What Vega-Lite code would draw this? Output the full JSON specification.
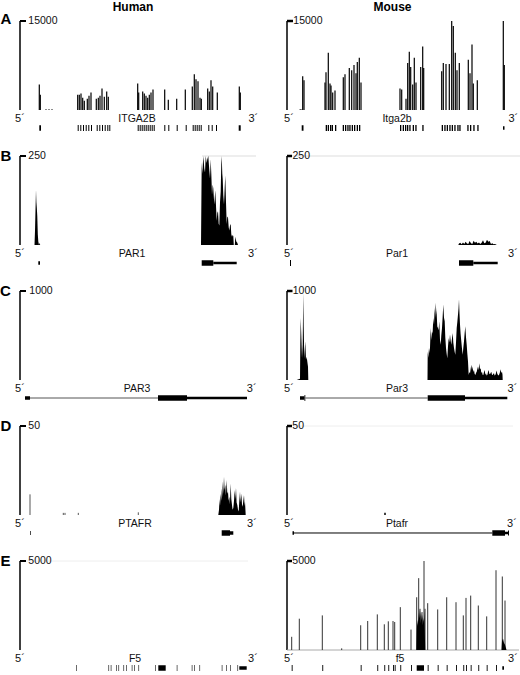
{
"$schema": "https://vega.github.io/schema/vega-lite/v6.json",
"padding": 0,
"spacing": 0,
"config": {"view": {"stroke": null}, "concat": {"spacing": 0}, "axis": {"disable": true}, "legend": {"disable": true},
  "mark": {"color": "#000000"},
  "text": {"font": "Liberation Sans", "fontSize": 10.5, "color": "#111111", "fill": "#111111"}, "rule": {"color": "#000000"}, "area": {"color": "#000000"}},
"datasets": {
"one": [{}],
"ah_cov": [{"x":19.3,"y":4310},{"x":20.3,"y":2590},{"x":26,"y":120},{"x":29,"y":120},{"x":32,"y":120},
{"x":57.7,"y":2590},{"x":59.3,"y":2590},{"x":61,"y":2760},{"x":62.7,"y":2070},{"x":64.3,"y":1550},{"x":67.3,"y":1900},{"x":69,"y":2410},{"x":71,"y":2930},{"x":76.3,"y":1900},{"x":78.3,"y":2070},{"x":80,"y":2410},{"x":82,"y":3620},{"x":84.3,"y":2240},{"x":86.7,"y":3100},{"x":88.3,"y":2240},
{"x":117.7,"y":4480},{"x":118.7,"y":2930},{"x":122.7,"y":3100},{"x":124.3,"y":2760},{"x":126,"y":2410},{"x":127.7,"y":2070},{"x":129.3,"y":2590},{"x":131,"y":2930},{"x":133,"y":3450},
{"x":144.7,"y":3450},{"x":148.3,"y":1720},{"x":156.7,"y":1900},{"x":165.3,"y":3450},{"x":172.3,"y":3970},{"x":174.3,"y":6030},{"x":176,"y":5170},{"x":178,"y":4830},{"x":180,"y":2070},{"x":181.3,"y":1900},{"x":187.7,"y":3620},{"x":189.3,"y":3100},{"x":191,"y":5000},{"x":192.7,"y":3970},{"x":197.3,"y":2930},{"x":219.3,"y":3970},{"x":220.3,"y":2930}],
"am_cov": [{"x":13,"y":100},{"x":14,"y":120},{"x":15.7,"y":5690},{"x":17,"y":5000},{"x":38,"y":4650},{"x":39,"y":6380},{"x":41.3,"y":9650},{"x":43,"y":4480},{"x":44,"y":4140},{"x":45.7,"y":2930},{"x":48,"y":3280},{"x":56.3,"y":5520},{"x":58,"y":6030},{"x":62.3,"y":7070},{"x":64.7,"y":6720},{"x":67,"y":7590},{"x":69,"y":6210},{"x":70.3,"y":8100},{"x":72.3,"y":8790},{"x":74,"y":4650},{"x":113,"y":3620},{"x":114.7,"y":3450},{"x":119,"y":1900},{"x":120.7,"y":7930},{"x":122.3,"y":9830},{"x":123.7,"y":7240},{"x":125.7,"y":4310},{"x":127.3,"y":8790},{"x":129,"y":4650},{"x":133.7,"y":7240},{"x":135.7,"y":10690},{"x":136.7,"y":7070},{"x":154.7,"y":6550},{"x":156.3,"y":7930},{"x":159,"y":7760},{"x":162.3,"y":7760},{"x":164.7,"y":15000},{"x":166.3,"y":14140},{"x":168.3,"y":9650},{"x":170,"y":6720},{"x":172.3,"y":7930},{"x":181.3,"y":8450},{"x":183,"y":6210},{"x":185,"y":11030},{"x":186.3,"y":4480},{"x":190.3,"y":5000},{"x":216.3,"y":15000},{"x":217.3,"y":7590}],
"bh_area": [{"x":14.5,"y":0},{"x":15,"y":40},{"x":15.5,"y":100},{"x":16,"y":155},{"x":16.4,"y":120},{"x":16.8,"y":105},{"x":17.3,"y":80},{"x":17.8,"y":30},{"x":18.3,"y":10},{"x":19,"y":0},{"x":19.6,"y":6},{"x":20.2,"y":0},
{"x":181,"y":0},{"x":181.7,"y":232},{"x":182.3,"y":200},{"x":183.3,"y":250},{"x":184.3,"y":215},{"x":185,"y":204},{"x":185.7,"y":250},{"x":186.7,"y":230},{"x":187.3,"y":241},{"x":188.3,"y":250},{"x":189.3,"y":210},{"x":190,"y":186},{"x":190.7,"y":241},{"x":191.3,"y":200},{"x":192,"y":141},{"x":192.7,"y":170},{"x":193.3,"y":159},{"x":194.3,"y":114},{"x":195.3,"y":154},{"x":196,"y":110},{"x":196.7,"y":68},{"x":197.3,"y":90},{"x":198,"y":95},{"x":198.7,"y":60},{"x":199.3,"y":55},{"x":200,"y":120},{"x":200.7,"y":150},{"x":201.3,"y":230},{"x":201.7,"y":250},{"x":202.3,"y":200},{"x":202.7,"y":186},{"x":203.3,"y":140},{"x":204,"y":114},{"x":204.7,"y":160},{"x":205.3,"y":195},{"x":206,"y":120},{"x":206.7,"y":59},{"x":207.3,"y":80},{"x":208,"y":77},{"x":208.7,"y":50},{"x":209.3,"y":41},{"x":210,"y":55},{"x":210.7,"y":59},{"x":211.3,"y":30},{"x":212,"y":23},{"x":212.7,"y":28},{"x":213.3,"y":25},{"x":213.8,"y":0},{"x":214.8,"y":0},{"x":215.3,"y":23},{"x":216.3,"y":10},{"x":217.3,"y":6},{"x":218,"y":0}],
"bm_area": [{"x":171.3,"y":0},{"x":172,"y":4},{"x":173.3,"y":6},{"x":174.6,"y":2},{"x":176,"y":7},{"x":177.3,"y":3},{"x":178.6,"y":9},{"x":180,"y":4},{"x":181.3,"y":3},{"x":182.6,"y":11},{"x":184,"y":5},{"x":185.3,"y":3},{"x":186.6,"y":12},{"x":188,"y":6},{"x":189.3,"y":9},{"x":190.6,"y":4},{"x":192,"y":7},{"x":193.3,"y":3},{"x":194.6,"y":6},{"x":196,"y":13},{"x":197.3,"y":5},{"x":198.6,"y":6},{"x":200,"y":15},{"x":201.3,"y":9},{"x":202.6,"y":11},{"x":204,"y":3},{"x":205.3,"y":5},{"x":206.6,"y":2},{"x":208,"y":3},{"x":209.3,"y":1},{"x":210,"y":0}],
"cm_area": [{"x":9.7,"y":0},{"x":12.3,"y":11},{"x":13,"y":15},{"x":13.3,"y":400},{"x":13.7,"y":698},{"x":14.3,"y":500},{"x":15,"y":245},{"x":15.7,"y":400},{"x":16,"y":700},{"x":16.3,"y":981},{"x":16.7,"y":600},{"x":17.3,"y":245},{"x":18,"y":380},{"x":18.3,"y":434},{"x":19,"y":226},{"x":19.7,"y":260},{"x":20.3,"y":208},{"x":21,"y":150},{"x":21.3,"y":0},
{"x":140.5,"y":0},{"x":140.7,"y":321},{"x":141.3,"y":250},{"x":142,"y":359},{"x":142.8,"y":300},{"x":143.7,"y":585},{"x":144.3,"y":450},{"x":145,"y":547},{"x":145.6,"y":520},{"x":146.3,"y":698},{"x":147,"y":620},{"x":147.7,"y":812},{"x":148.2,"y":700},{"x":148.7,"y":868},{"x":149.2,"y":780},{"x":149.7,"y":736},{"x":150.3,"y":600},{"x":151,"y":585},{"x":151.6,"y":560},{"x":152.3,"y":661},{"x":153,"y":450},{"x":153.7,"y":396},{"x":154.3,"y":500},{"x":155,"y":585},{"x":155.6,"y":700},{"x":156.3,"y":849},{"x":157,"y":700},{"x":157.7,"y":661},{"x":158.3,"y":480},{"x":159,"y":359},{"x":159.6,"y":300},{"x":160.3,"y":245},{"x":161,"y":380},{"x":161.7,"y":472},{"x":162.3,"y":420},{"x":163,"y":510},{"x":163.6,"y":450},{"x":164.3,"y":396},{"x":165,"y":470},{"x":165.7,"y":529},{"x":166.3,"y":420},{"x":167,"y":359},{"x":167.6,"y":320},{"x":168.3,"y":283},{"x":169,"y":420},{"x":169.7,"y":585},{"x":170.3,"y":650},{"x":171,"y":736},{"x":171.5,"y":800},{"x":172,"y":906},{"x":172.5,"y":750},{"x":173,"y":623},{"x":173.6,"y":520},{"x":174.3,"y":434},{"x":175,"y":350},{"x":175.7,"y":283},{"x":176.3,"y":360},{"x":177,"y":434},{"x":177.6,"y":520},{"x":178.3,"y":604},{"x":179,"y":480},{"x":179.7,"y":396},{"x":180.3,"y":300},{"x":181,"y":208},{"x":181.7,"y":57},{"x":182.3,"y":90},{"x":183,"y":75},{"x":183.6,"y":120},{"x":184.3,"y":170},{"x":185,"y":110},{"x":185.7,"y":151},{"x":186.3,"y":90},{"x":187,"y":113},{"x":187.6,"y":70},{"x":188.3,"y":57},{"x":189,"y":80},{"x":189.7,"y":94},{"x":190.3,"y":120},{"x":191,"y":151},{"x":191.6,"y":110},{"x":192.3,"y":189},{"x":193,"y":120},{"x":193.7,"y":132},{"x":194.3,"y":80},{"x":195,"y":94},{"x":195.6,"y":60},{"x":196.3,"y":57},{"x":197,"y":90},{"x":197.7,"y":113},{"x":198.3,"y":60},{"x":199,"y":75},{"x":199.6,"y":50},{"x":200.3,"y":57},{"x":201,"y":90},{"x":201.7,"y":113},{"x":202.3,"y":70},{"x":203,"y":64},{"x":203.6,"y":80},{"x":204.3,"y":94},{"x":205,"y":60},{"x":205.7,"y":57},{"x":206.3,"y":70},{"x":207,"y":75},{"x":207.6,"y":50},{"x":208.3,"y":57},{"x":209,"y":80},{"x":209.7,"y":106},{"x":210.3,"y":70},{"x":211,"y":57},{"x":211.6,"y":50},{"x":212.3,"y":64},{"x":213,"y":90},{"x":213.7,"y":121},{"x":214.3,"y":80},{"x":215,"y":94},{"x":215.5,"y":60},{"x":215.7,"y":0}],
"dh_area": [{"x":198.3,"y":0},{"x":199,"y":3},{"x":199.5,"y":9},{"x":200,"y":5},{"x":200.7,"y":12},{"x":201.3,"y":8},{"x":201.8,"y":15},{"x":202.3,"y":10},{"x":202.7,"y":19},{"x":203.3,"y":12},{"x":204,"y":21.5},{"x":204.6,"y":14},{"x":205.3,"y":17},{"x":205.9,"y":11},{"x":206.7,"y":19.6},{"x":207.3,"y":12},{"x":208,"y":13},{"x":208.6,"y":8},{"x":209.3,"y":10.3},{"x":209.9,"y":6},{"x":210.7,"y":17.7},{"x":211.3,"y":9},{"x":212,"y":5.6},{"x":212.6,"y":3},{"x":213.3,"y":4},{"x":214,"y":8},{"x":214.7,"y":14},{"x":215.3,"y":9},{"x":216,"y":15.3},{"x":216.6,"y":7},{"x":217.3,"y":5.6},{"x":218,"y":3},{"x":218.7,"y":2},{"x":219.3,"y":8},{"x":220,"y":13.1},{"x":220.6,"y":7},{"x":221.3,"y":12.1},{"x":222,"y":6},{"x":222.7,"y":4.7},{"x":223.3,"y":8},{"x":224,"y":11.2},{"x":224.6,"y":5},{"x":225,"y":7.5},{"x":225.7,"y":0}],
"dh_cov": [{"x":10,"y":11.6},{"x":43.3,"y":1.2},{"x":45,"y":1.2},{"x":58.3,"y":1.2},{"x":118.3,"y":1.5}],
"dm_cov": [{"x":98,"y":1.2}],
"em_cov": [{"x":4.7,"y":741},{"x":12.3,"y":1759},{"x":35.3,"y":1944},{"x":54.7,"y":93},{"x":73.7,"y":1389},{"x":80.7,"y":1630},{"x":90.3,"y":2000},{"x":97.3,"y":1444},{"x":101.3,"y":1611},{"x":106,"y":1630},{"x":107.7,"y":1574},{"x":113.3,"y":2407},{"x":124,"y":1148},{"x":129.7,"y":2963},{"x":131.7,"y":4037},{"x":133,"y":2315},{"x":135,"y":2130},{"x":137,"y":5000},{"x":138,"y":2315},{"x":140.7,"y":2630},{"x":150.7,"y":2278},{"x":159.7,"y":2963},{"x":169,"y":2685},{"x":176.3,"y":1944},{"x":179,"y":2926},{"x":183.7,"y":3056},{"x":191.3,"y":2500},{"x":199.7,"y":1889},{"x":209,"y":4481},{"x":215.3,"y":4130},{"x":218,"y":2778}],
"em_area": [{"x":129.4,"y":0},{"x":129.9,"y":1200},{"x":130.4,"y":1700},{"x":130.9,"y":1400},{"x":131.4,"y":2100},{"x":131.9,"y":1600},{"x":132.4,"y":2300},{"x":132.9,"y":1800},{"x":133.4,"y":2200},{"x":133.9,"y":1500},{"x":134.4,"y":2100},{"x":134.9,"y":1700},{"x":135.4,"y":2000},{"x":135.9,"y":1400},{"x":136.4,"y":1800},{"x":136.9,"y":1600},{"x":137.4,"y":2200},{"x":137.9,"y":800},{"x":138.2,"y":0},{"x":214.5,"y":0},{"x":215,"y":500},{"x":216,"y":650},{"x":217,"y":400},{"x":218,"y":300},{"x":219,"y":100},{"x":219.5,"y":0}],
"ah_gene": [{"x":19.3,"x2":21,"part":"cds"},{"x":57.7,"x2":58.7,"part":"exon"},{"x":60.3,"x2":61.3,"part":"exon"},{"x":63,"x2":64,"part":"exon"},{"x":65.7,"x2":66.7,"part":"exon"},{"x":68.3,"x2":69.3,"part":"exon"},{"x":71,"x2":72,"part":"exon"},{"x":76.7,"x2":77.7,"part":"exon"},{"x":79.3,"x2":80.3,"part":"exon"},{"x":82,"x2":83,"part":"exon"},{"x":84.7,"x2":85.7,"part":"exon"},{"x":87.3,"x2":88.3,"part":"exon"},{"x":89.3,"x2":90.3,"part":"exon"},{"x":117.7,"x2":118.7,"part":"exon"},{"x":119.7,"x2":120.7,"part":"exon"},{"x":121.7,"x2":122.7,"part":"exon"},{"x":123.7,"x2":124.7,"part":"exon"},{"x":125.7,"x2":126.7,"part":"exon"},{"x":127.7,"x2":128.7,"part":"exon"},{"x":129.7,"x2":130.7,"part":"exon"},{"x":131.7,"x2":132.7,"part":"exon"},{"x":133.7,"x2":134.7,"part":"exon"},{"x":144.3,"x2":145.3,"part":"exon"},{"x":148.3,"x2":149.3,"part":"exon"},{"x":156.7,"x2":157.7,"part":"exon"},{"x":165.7,"x2":166.7,"part":"exon"},{"x":172.7,"x2":173.7,"part":"exon"},{"x":174.7,"x2":175.7,"part":"exon"},{"x":176.7,"x2":177.7,"part":"exon"},{"x":178.7,"x2":179.7,"part":"exon"},{"x":180.7,"x2":181.7,"part":"exon"},{"x":188.3,"x2":189.3,"part":"exon"},{"x":191.7,"x2":192.7,"part":"exon"},{"x":196,"x2":197,"part":"exon"},{"x":218.7,"x2":220.7,"part":"cds"}],
"am_gene": [{"x":14.7,"x2":16.5,"part":"cds"},{"x":38.7,"x2":40,"part":"exon"},{"x":40.7,"x2":42,"part":"exon"},{"x":43,"x2":44.3,"part":"exon"},{"x":44.7,"x2":46,"part":"exon"},{"x":48,"x2":49.3,"part":"exon"},{"x":55.7,"x2":57,"part":"exon"},{"x":58,"x2":59.3,"part":"exon"},{"x":60.3,"x2":61.6,"part":"exon"},{"x":62.3,"x2":63.6,"part":"exon"},{"x":64.7,"x2":66,"part":"exon"},{"x":67,"x2":68.3,"part":"exon"},{"x":69.7,"x2":71,"part":"exon"},{"x":72,"x2":73.3,"part":"exon"},{"x":113,"x2":114.3,"part":"exon"},{"x":115.7,"x2":117,"part":"exon"},{"x":118,"x2":119.3,"part":"exon"},{"x":120,"x2":121.3,"part":"exon"},{"x":122.3,"x2":123.6,"part":"exon"},{"x":125.7,"x2":127,"part":"exon"},{"x":128.3,"x2":129.6,"part":"exon"},{"x":135.3,"x2":136.6,"part":"exon"},{"x":154.7,"x2":156,"part":"exon"},{"x":157.3,"x2":158.6,"part":"exon"},{"x":159.7,"x2":161,"part":"exon"},{"x":162.3,"x2":163.6,"part":"exon"},{"x":164.7,"x2":166,"part":"exon"},{"x":167.3,"x2":168.6,"part":"exon"},{"x":170.3,"x2":171.6,"part":"exon"},{"x":172.3,"x2":173.6,"part":"exon"},{"x":180.3,"x2":181.6,"part":"exon"},{"x":183,"x2":184.3,"part":"exon"},{"x":186.3,"x2":187.6,"part":"exon"},{"x":190.3,"x2":191.6,"part":"exon"},{"x":216,"x2":217.5,"part":"utr"}],
"bh_gene": [{"x":18.3,"x2":20,"part":"utr"},{"x":181.7,"x2":193.3,"part":"cds"},{"x":193.3,"x2":216.7,"part":"line"}],
"bm_gene": [{"x":3,"x2":4,"part":"exon"},{"x":172,"x2":186.3,"part":"cds"},{"x":186.3,"x2":210.7,"part":"line"}],
"ch_gene": [{"x":5,"x2":10,"part":"utr"},{"x":10,"x2":138,"part":"intron"},{"x":138,"x2":167,"part":"cds"},{"x":167,"x2":227,"part":"line"}],
"cm_gene": [{"x":13,"x2":17.5,"part":"utr"},{"x":17.5,"x2":18.3,"part":"exon"},{"x":18.3,"x2":140.7,"part":"intron"},{"x":140.7,"x2":178,"part":"cds"},{"x":178,"x2":220.3,"part":"line"}],
"dh_gene": [{"x":10.3,"x2":11,"part":"exon"},{"x":201.7,"x2":210,"part":"cds"},{"x":210,"x2":213.3,"part":"utr"}],
"dm_gene": [{"x":5.5,"x2":7,"part":"utr"},{"x":7,"x2":205.3,"part":"intron"},{"x":205.3,"x2":218,"part":"cds"},{"x":218,"x2":221.3,"part":"line"},{"x":221,"x2":222,"part":"exon"}],
"eh_gene": [{"x":56,"x2":56.8,"part":"exon"},{"x":88.3,"x2":89.1,"part":"exon"},{"x":90.7,"x2":91.5,"part":"exon"},{"x":96,"x2":96.8,"part":"exon"},{"x":98.3,"x2":99.1,"part":"exon"},{"x":103.3,"x2":104.1,"part":"exon"},{"x":106,"x2":106.8,"part":"exon"},{"x":111.7,"x2":112.5,"part":"exon"},{"x":114,"x2":114.8,"part":"exon"},{"x":118.3,"x2":119.1,"part":"exon"},{"x":135,"x2":135.8,"part":"exon"},{"x":138.3,"x2":145.7,"part":"cds"},{"x":156.7,"x2":157.5,"part":"exon"},{"x":171.7,"x2":172.5,"part":"exon"},{"x":174,"x2":174.8,"part":"exon"},{"x":179.3,"x2":180.1,"part":"exon"},{"x":201.7,"x2":202.5,"part":"exon"},{"x":206,"x2":206.8,"part":"exon"},{"x":210,"x2":210.8,"part":"exon"},{"x":217.3,"x2":218.1,"part":"exon"},{"x":219.3,"x2":226.7,"part":"utr"}],
"em_gene": [{"x":4.7,"x2":5.6,"part":"exon"},{"x":35.3,"x2":36.2,"part":"exon"},{"x":73.7,"x2":74.6,"part":"exon"},{"x":90.3,"x2":91.2,"part":"exon"},{"x":97.3,"x2":98.2,"part":"exon"},{"x":101.3,"x2":102.2,"part":"exon"},{"x":106,"x2":106.9,"part":"exon"},{"x":107.7,"x2":108.6,"part":"exon"},{"x":113.3,"x2":114.2,"part":"exon"},{"x":124,"x2":124.9,"part":"exon"},{"x":129.7,"x2":137,"part":"cds"},{"x":140.7,"x2":141.6,"part":"exon"},{"x":150.7,"x2":151.6,"part":"exon"},{"x":159.7,"x2":160.6,"part":"exon"},{"x":169,"x2":169.9,"part":"exon"},{"x":176.3,"x2":177.2,"part":"exon"},{"x":179,"x2":179.9,"part":"exon"},{"x":183.7,"x2":184.6,"part":"exon"},{"x":191.3,"x2":192.2,"part":"exon"},{"x":199.7,"x2":200.6,"part":"exon"},{"x":209,"x2":209.9,"part":"exon"},{"x":215.3,"x2":217,"part":"utr"}]
},
"vconcat": [
{"hconcat": [
 {"width": 260, "height": 135, "layer": [
  {"data": {"name": "one"}, "mark": {"type": "rule", "strokeWidth": 1.5}, "encoding": {"x": {"datum": 0, "type": "quantitative", "scale": {"domain": [-20, 240], "nice": false, "zero": false}, "axis": null}, "y": {"datum": 15000, "type": "quantitative", "scale": {"domain": [-4382, 18370.8], "nice": false, "zero": false}, "axis": null}, "y2": {"datum": 0}}},
  {"data": {"name": "one"}, "mark": {"type": "rule", "strokeWidth": 2}, "encoding": {"x": {"datum": 0, "type": "quantitative"}, "x2": {"datum": 6}, "y": {"datum": 15000, "type": "quantitative"}}},
  {"data": {"name": "one"}, "mark": {"type": "text", "text": "15000", "align": "left", "baseline": "middle", "fill": "#111111"}, "encoding": {"x": {"datum": 8.3, "type": "quantitative"}, "y": {"datum": 15000, "type": "quantitative"}}},
  {"data": {"name": "one"}, "mark": {"type": "text", "text": "5´", "align": "center", "baseline": "middle", "fontSize": 11, "fill": "#111111"}, "encoding": {"x": {"datum": 0, "type": "quantitative"}, "y": {"datum": -1516.9, "type": "quantitative"}}},
  {"data": {"name": "one"}, "mark": {"type": "text", "text": "3´", "align": "center", "baseline": "middle", "fontSize": 11, "fill": "#111111"}, "encoding": {"x": {"datum": 233.3, "type": "quantitative"}, "y": {"datum": -1516.9, "type": "quantitative"}}},
  {"data": {"name": "one"}, "mark": {"type": "text", "text": "ITGA2B", "align": "center", "baseline": "middle", "fill": "#111111"}, "encoding": {"x": {"datum": 117, "type": "quantitative"}, "y": {"datum": -1516.9, "type": "quantitative"}}},
  {"data": {"name": "one"}, "mark": {"type": "text", "text": "A", "align": "center", "baseline": "middle", "fontSize": 15, "fontWeight": "bold", "fill": "#000000"}, "encoding": {"x": {"datum": -14, "type": "quantitative"}, "y": {"datum": 15337, "type": "quantitative"}}},
  {"data": {"name": "one"}, "mark": {"type": "text", "text": "Human", "align": "center", "baseline": "middle", "fontSize": 12, "fontWeight": "bold", "fill": "#000000"}, "encoding": {"x": {"datum": 113, "type": "quantitative"}, "y": {"datum": 17360, "type": "quantitative"}}},
  {"data": {"name": "ah_gene"}, "mark": {"type": "rule", "strokeCap": "butt"}, "encoding": {"x": {"field": "x", "type": "quantitative"}, "x2": {"field": "x2"}, "y": {"datum": -3033.7, "type": "quantitative"}, "strokeWidth": {"condition": [{"test": "datum.part === 'exon'", "value": 6}, {"test": "datum.part === 'cds'", "value": 5.5}, {"test": "datum.part === 'utr'", "value": 3.5}, {"test": "datum.part === 'line'", "value": 2.5}], "value": 1}}},
  {"data": {"name": "ah_cov"}, "mark": {"type": "rule", "strokeWidth": 1.2}, "encoding": {"x": {"field": "x", "type": "quantitative"}, "y": {"field": "y", "type": "quantitative"}, "y2": {"datum": 0}}}
 ]},
 {"width": 260, "height": 135, "layer": [
  {"data": {"name": "one"}, "mark": {"type": "rule", "strokeWidth": 1.5}, "encoding": {"x": {"datum": 0, "type": "quantitative", "scale": {"domain": [-27, 233], "nice": false, "zero": false}, "axis": null}, "y": {"datum": 15000, "type": "quantitative", "scale": {"domain": [-4382, 18370.8], "nice": false, "zero": false}, "axis": null}, "y2": {"datum": 0}}},
  {"data": {"name": "one"}, "mark": {"type": "rule", "strokeWidth": 2.5}, "encoding": {"x": {"datum": 0, "type": "quantitative"}, "x2": {"datum": 6}, "y": {"datum": 15000, "type": "quantitative"}}},
  {"data": {"name": "one"}, "mark": {"type": "text", "text": "15000", "align": "left", "baseline": "middle", "fill": "#111111"}, "encoding": {"x": {"datum": 6.3, "type": "quantitative"}, "y": {"datum": 15000, "type": "quantitative"}}},
  {"data": {"name": "one"}, "mark": {"type": "text", "text": "5´", "align": "center", "baseline": "middle", "fontSize": 11, "fill": "#111111"}, "encoding": {"x": {"datum": 2, "type": "quantitative"}, "y": {"datum": -1516.9, "type": "quantitative"}}},
  {"data": {"name": "one"}, "mark": {"type": "text", "text": "3´", "align": "center", "baseline": "middle", "fontSize": 11, "fill": "#111111"}, "encoding": {"x": {"datum": 226.3, "type": "quantitative"}, "y": {"datum": -1516.9, "type": "quantitative"}}},
  {"data": {"name": "one"}, "mark": {"type": "text", "text": "Itga2b", "align": "center", "baseline": "middle", "fill": "#111111"}, "encoding": {"x": {"datum": 110, "type": "quantitative"}, "y": {"datum": -1516.9, "type": "quantitative"}}},
  {"data": {"name": "one"}, "mark": {"type": "text", "text": "Mouse", "align": "center", "baseline": "middle", "fontSize": 12, "fontWeight": "bold", "fill": "#000000"}, "encoding": {"x": {"datum": 105.5, "type": "quantitative"}, "y": {"datum": 17360, "type": "quantitative"}}},
  {"data": {"name": "am_gene"}, "mark": {"type": "rule", "strokeCap": "butt"}, "encoding": {"x": {"field": "x", "type": "quantitative"}, "x2": {"field": "x2"}, "y": {"datum": -3033.7, "type": "quantitative"}, "strokeWidth": {"condition": [{"test": "datum.part === 'exon'", "value": 6}, {"test": "datum.part === 'cds'", "value": 5.5}, {"test": "datum.part === 'utr'", "value": 3.5}, {"test": "datum.part === 'line'", "value": 2.5}], "value": 1}}},
  {"data": {"name": "am_cov"}, "mark": {"type": "rule", "strokeWidth": 1.2}, "encoding": {"x": {"field": "x", "type": "quantitative"}, "y": {"field": "y", "type": "quantitative"}, "y2": {"datum": 0}}}
 ]}
]},
{"hconcat": [
 {"width": 260, "height": 135, "layer": [
  {"data": {"name": "one"}, "mark": {"type": "rule", "strokeWidth": 1.5}, "encoding": {"x": {"datum": 0, "type": "quantitative", "scale": {"domain": [-20, 240], "nice": false, "zero": false}, "axis": null}, "y": {"datum": 250, "type": "quantitative", "scale": {"domain": [-73.03, 306.18], "nice": false, "zero": false}, "axis": null}, "y2": {"datum": 0}}},
  {"data": {"name": "one"}, "mark": {"type": "rule", "strokeWidth": 1, "color": "#dddddd"}, "encoding": {"x": {"datum": 182, "type": "quantitative"}, "x2": {"datum": 236}, "y": {"datum": 250, "type": "quantitative"}}},
  {"data": {"name": "one"}, "mark": {"type": "rule", "strokeWidth": 2}, "encoding": {"x": {"datum": 0, "type": "quantitative"}, "x2": {"datum": 6}, "y": {"datum": 250, "type": "quantitative"}}},
  {"data": {"name": "one"}, "mark": {"type": "text", "text": "250", "align": "left", "baseline": "middle", "fill": "#111111"}, "encoding": {"x": {"datum": 8.3, "type": "quantitative"}, "y": {"datum": 250, "type": "quantitative"}}},
  {"data": {"name": "one"}, "mark": {"type": "text", "text": "5´", "align": "center", "baseline": "middle", "fontSize": 11, "fill": "#111111"}, "encoding": {"x": {"datum": 0, "type": "quantitative"}, "y": {"datum": -25.28, "type": "quantitative"}}},
  {"data": {"name": "one"}, "mark": {"type": "text", "text": "3´", "align": "center", "baseline": "middle", "fontSize": 11, "fill": "#111111"}, "encoding": {"x": {"datum": 233, "type": "quantitative"}, "y": {"datum": -25.28, "type": "quantitative"}}},
  {"data": {"name": "one"}, "mark": {"type": "text", "text": "PAR1", "align": "center", "baseline": "middle", "fill": "#111111"}, "encoding": {"x": {"datum": 112, "type": "quantitative"}, "y": {"datum": -25.28, "type": "quantitative"}}},
  {"data": {"name": "one"}, "mark": {"type": "text", "text": "B", "align": "center", "baseline": "middle", "fontSize": 15, "fontWeight": "bold", "fill": "#000000"}, "encoding": {"x": {"datum": -14, "type": "quantitative"}, "y": {"datum": 250, "type": "quantitative"}}},
  {"data": {"name": "bh_gene"}, "mark": {"type": "rule", "strokeCap": "butt"}, "encoding": {"x": {"field": "x", "type": "quantitative"}, "x2": {"field": "x2"}, "y": {"datum": -50.56, "type": "quantitative"}, "strokeWidth": {"condition": [{"test": "datum.part === 'exon'", "value": 6}, {"test": "datum.part === 'cds'", "value": 5.5}, {"test": "datum.part === 'utr'", "value": 3.5}, {"test": "datum.part === 'line'", "value": 2.5}], "value": 1}}},
  {"data": {"name": "bh_area"}, "mark": {"type": "area"}, "encoding": {"x": {"field": "x", "type": "quantitative"}, "y": {"field": "y", "type": "quantitative"}, "y2": {"datum": 0}}}
 ]},
 {"width": 260, "height": 135, "layer": [
  {"data": {"name": "one"}, "mark": {"type": "rule", "strokeWidth": 1.5}, "encoding": {"x": {"datum": 0, "type": "quantitative", "scale": {"domain": [-27, 233], "nice": false, "zero": false}, "axis": null}, "y": {"datum": 250, "type": "quantitative", "scale": {"domain": [-73.03, 306.18], "nice": false, "zero": false}, "axis": null}, "y2": {"datum": 0}}},
  {"data": {"name": "one"}, "mark": {"type": "rule", "strokeWidth": 1, "color": "#dddddd"}, "encoding": {"x": {"datum": 0, "type": "quantitative"}, "x2": {"datum": 233}, "y": {"datum": 250, "type": "quantitative"}}},
  {"data": {"name": "one"}, "mark": {"type": "rule", "strokeWidth": 2.5}, "encoding": {"x": {"datum": 0, "type": "quantitative"}, "x2": {"datum": 5}, "y": {"datum": 250, "type": "quantitative"}}},
  {"data": {"name": "one"}, "mark": {"type": "text", "text": "250", "align": "left", "baseline": "middle", "fill": "#111111"}, "encoding": {"x": {"datum": 5.5, "type": "quantitative"}, "y": {"datum": 250, "type": "quantitative"}}},
  {"data": {"name": "one"}, "mark": {"type": "text", "text": "5´", "align": "center", "baseline": "middle", "fontSize": 11, "fill": "#111111"}, "encoding": {"x": {"datum": 2, "type": "quantitative"}, "y": {"datum": -25.28, "type": "quantitative"}}},
  {"data": {"name": "one"}, "mark": {"type": "text", "text": "3´", "align": "center", "baseline": "middle", "fontSize": 11, "fill": "#111111"}, "encoding": {"x": {"datum": 226, "type": "quantitative"}, "y": {"datum": -25.28, "type": "quantitative"}}},
  {"data": {"name": "one"}, "mark": {"type": "text", "text": "Par1", "align": "center", "baseline": "middle", "fill": "#111111"}, "encoding": {"x": {"datum": 110, "type": "quantitative"}, "y": {"datum": -25.28, "type": "quantitative"}}},
  {"data": {"name": "bm_gene"}, "mark": {"type": "rule", "strokeCap": "butt"}, "encoding": {"x": {"field": "x", "type": "quantitative"}, "x2": {"field": "x2"}, "y": {"datum": -50.56, "type": "quantitative"}, "strokeWidth": {"condition": [{"test": "datum.part === 'exon'", "value": 6}, {"test": "datum.part === 'cds'", "value": 5.5}, {"test": "datum.part === 'utr'", "value": 3.5}, {"test": "datum.part === 'line'", "value": 2.5}], "value": 1}}},
  {"data": {"name": "bm_area"}, "mark": {"type": "area"}, "encoding": {"x": {"field": "x", "type": "quantitative"}, "y": {"field": "y", "type": "quantitative"}, "y2": {"datum": 0}}}
 ]}
]},
{"hconcat": [
 {"width": 260, "height": 135, "layer": [
  {"data": {"name": "one"}, "mark": {"type": "rule", "strokeWidth": 1.5}, "encoding": {"x": {"datum": 0, "type": "quantitative", "scale": {"domain": [-20, 240], "nice": false, "zero": false}, "axis": null}, "y": {"datum": 1000, "type": "quantitative", "scale": {"domain": [-292.13, 1224.72], "nice": false, "zero": false}, "axis": null}, "y2": {"datum": 0}}},
  {"data": {"name": "one"}, "mark": {"type": "rule", "strokeWidth": 2}, "encoding": {"x": {"datum": 0, "type": "quantitative"}, "x2": {"datum": 6}, "y": {"datum": 1000, "type": "quantitative"}}},
  {"data": {"name": "one"}, "mark": {"type": "text", "text": "1000", "align": "left", "baseline": "middle", "fill": "#111111"}, "encoding": {"x": {"datum": 9.3, "type": "quantitative"}, "y": {"datum": 1000, "type": "quantitative"}}},
  {"data": {"name": "one"}, "mark": {"type": "text", "text": "5´", "align": "center", "baseline": "middle", "fontSize": 11, "fill": "#111111"}, "encoding": {"x": {"datum": 0, "type": "quantitative"}, "y": {"datum": -101.12, "type": "quantitative"}}},
  {"data": {"name": "one"}, "mark": {"type": "text", "text": "3´", "align": "center", "baseline": "middle", "fontSize": 11, "fill": "#111111"}, "encoding": {"x": {"datum": 231.7, "type": "quantitative"}, "y": {"datum": -101.12, "type": "quantitative"}}},
  {"data": {"name": "one"}, "mark": {"type": "text", "text": "PAR3", "align": "center", "baseline": "middle", "fill": "#111111"}, "encoding": {"x": {"datum": 117, "type": "quantitative"}, "y": {"datum": -101.12, "type": "quantitative"}}},
  {"data": {"name": "one"}, "mark": {"type": "text", "text": "C", "align": "center", "baseline": "middle", "fontSize": 15, "fontWeight": "bold", "fill": "#000000"}, "encoding": {"x": {"datum": -14.5, "type": "quantitative"}, "y": {"datum": 1000, "type": "quantitative"}}},
  {"data": {"name": "ch_gene"}, "mark": {"type": "rule", "strokeCap": "butt"}, "encoding": {"x": {"field": "x", "type": "quantitative"}, "x2": {"field": "x2"}, "y": {"datum": -202.25, "type": "quantitative"}, "strokeWidth": {"condition": [{"test": "datum.part === 'exon'", "value": 6}, {"test": "datum.part === 'cds'", "value": 5.5}, {"test": "datum.part === 'utr'", "value": 3.5}, {"test": "datum.part === 'line'", "value": 2.5}], "value": 1}, "color": {"condition": {"test": "datum.part === 'intron'", "value": "#555555"}, "value": "#000000"}}}
 ]},
 {"width": 260, "height": 135, "layer": [
  {"data": {"name": "one"}, "mark": {"type": "rule", "strokeWidth": 1.5}, "encoding": {"x": {"datum": 0, "type": "quantitative", "scale": {"domain": [-27, 233], "nice": false, "zero": false}, "axis": null}, "y": {"datum": 1000, "type": "quantitative", "scale": {"domain": [-292.13, 1224.72], "nice": false, "zero": false}, "axis": null}, "y2": {"datum": 0}}},
  {"data": {"name": "one"}, "mark": {"type": "rule", "strokeWidth": 2.5}, "encoding": {"x": {"datum": 0, "type": "quantitative"}, "x2": {"datum": 5.5}, "y": {"datum": 1000, "type": "quantitative"}}},
  {"data": {"name": "one"}, "mark": {"type": "text", "text": "1000", "align": "left", "baseline": "middle", "fill": "#111111"}, "encoding": {"x": {"datum": 5.7, "type": "quantitative"}, "y": {"datum": 1000, "type": "quantitative"}}},
  {"data": {"name": "one"}, "mark": {"type": "text", "text": "5´", "align": "center", "baseline": "middle", "fontSize": 11, "fill": "#111111"}, "encoding": {"x": {"datum": 2, "type": "quantitative"}, "y": {"datum": -101.12, "type": "quantitative"}}},
  {"data": {"name": "one"}, "mark": {"type": "text", "text": "3´", "align": "center", "baseline": "middle", "fontSize": 11, "fill": "#111111"}, "encoding": {"x": {"datum": 225.5, "type": "quantitative"}, "y": {"datum": -101.12, "type": "quantitative"}}},
  {"data": {"name": "one"}, "mark": {"type": "text", "text": "Par3", "align": "center", "baseline": "middle", "fill": "#111111"}, "encoding": {"x": {"datum": 110, "type": "quantitative"}, "y": {"datum": -101.12, "type": "quantitative"}}},
  {"data": {"name": "cm_gene"}, "mark": {"type": "rule", "strokeCap": "butt"}, "encoding": {"x": {"field": "x", "type": "quantitative"}, "x2": {"field": "x2"}, "y": {"datum": -202.25, "type": "quantitative"}, "strokeWidth": {"condition": [{"test": "datum.part === 'exon'", "value": 6}, {"test": "datum.part === 'cds'", "value": 5.5}, {"test": "datum.part === 'utr'", "value": 3.5}, {"test": "datum.part === 'line'", "value": 2.5}], "value": 1}, "color": {"condition": {"test": "datum.part === 'intron'", "value": "#555555"}, "value": "#000000"}}},
  {"data": {"name": "cm_area"}, "mark": {"type": "area"}, "encoding": {"x": {"field": "x", "type": "quantitative"}, "y": {"field": "y", "type": "quantitative"}, "y2": {"datum": 0}}}
 ]}
]},
{"hconcat": [
 {"width": 260, "height": 135, "layer": [
  {"data": {"name": "one"}, "mark": {"type": "rule", "strokeWidth": 1.5}, "encoding": {"x": {"datum": 0, "type": "quantitative", "scale": {"domain": [-20, 240], "nice": false, "zero": false}, "axis": null}, "y": {"datum": 50, "type": "quantitative", "scale": {"domain": [-14.607, 61.236], "nice": false, "zero": false}, "axis": null}, "y2": {"datum": 0}}},
  {"data": {"name": "one"}, "mark": {"type": "rule", "strokeWidth": 2}, "encoding": {"x": {"datum": 0, "type": "quantitative"}, "x2": {"datum": 6}, "y": {"datum": 50, "type": "quantitative"}}},
  {"data": {"name": "one"}, "mark": {"type": "text", "text": "50", "align": "left", "baseline": "middle", "fill": "#111111"}, "encoding": {"x": {"datum": 8.3, "type": "quantitative"}, "y": {"datum": 50, "type": "quantitative"}}},
  {"data": {"name": "one"}, "mark": {"type": "text", "text": "5´", "align": "center", "baseline": "middle", "fontSize": 11, "fill": "#111111"}, "encoding": {"x": {"datum": 0, "type": "quantitative"}, "y": {"datum": -5.056, "type": "quantitative"}}},
  {"data": {"name": "one"}, "mark": {"type": "text", "text": "3´", "align": "center", "baseline": "middle", "fontSize": 11, "fill": "#111111"}, "encoding": {"x": {"datum": 232, "type": "quantitative"}, "y": {"datum": -5.056, "type": "quantitative"}}},
  {"data": {"name": "one"}, "mark": {"type": "text", "text": "PTAFR", "align": "center", "baseline": "middle", "fill": "#111111"}, "encoding": {"x": {"datum": 115, "type": "quantitative"}, "y": {"datum": -5.056, "type": "quantitative"}}},
  {"data": {"name": "one"}, "mark": {"type": "text", "text": "D", "align": "center", "baseline": "middle", "fontSize": 15, "fontWeight": "bold", "fill": "#000000"}, "encoding": {"x": {"datum": -14, "type": "quantitative"}, "y": {"datum": 50, "type": "quantitative"}}},
  {"data": {"name": "dh_gene"}, "mark": {"type": "rule", "strokeCap": "butt"}, "encoding": {"x": {"field": "x", "type": "quantitative"}, "x2": {"field": "x2"}, "y": {"datum": -10.112, "type": "quantitative"}, "strokeWidth": {"condition": [{"test": "datum.part === 'exon'", "value": 4}, {"test": "datum.part === 'cds'", "value": 5.5}, {"test": "datum.part === 'utr'", "value": 3.5}, {"test": "datum.part === 'line'", "value": 2.5}], "value": 1}}},
  {"data": {"name": "dh_cov"}, "mark": {"type": "rule", "strokeWidth": 1, "color": "#555555"}, "encoding": {"x": {"field": "x", "type": "quantitative"}, "y": {"field": "y", "type": "quantitative"}, "y2": {"datum": 0}}},
  {"data": {"name": "dh_area"}, "mark": {"type": "area"}, "encoding": {"x": {"field": "x", "type": "quantitative"}, "y": {"field": "y", "type": "quantitative"}, "y2": {"datum": 0}}}
 ]},
 {"width": 260, "height": 135, "layer": [
  {"data": {"name": "one"}, "mark": {"type": "rule", "strokeWidth": 1.5}, "encoding": {"x": {"datum": 0, "type": "quantitative", "scale": {"domain": [-27, 233], "nice": false, "zero": false}, "axis": null}, "y": {"datum": 50, "type": "quantitative", "scale": {"domain": [-14.607, 61.236], "nice": false, "zero": false}, "axis": null}, "y2": {"datum": 0}}},
  {"data": {"name": "one"}, "mark": {"type": "rule", "strokeWidth": 1, "color": "#eeeeee"}, "encoding": {"x": {"datum": 6, "type": "quantitative"}, "x2": {"datum": 226}, "y": {"datum": 50, "type": "quantitative"}}},
  {"data": {"name": "one"}, "mark": {"type": "rule", "strokeWidth": 2.5}, "encoding": {"x": {"datum": 0, "type": "quantitative"}, "x2": {"datum": 5}, "y": {"datum": 50, "type": "quantitative"}}},
  {"data": {"name": "one"}, "mark": {"type": "text", "text": "50", "align": "left", "baseline": "middle", "fill": "#111111"}, "encoding": {"x": {"datum": 5.3, "type": "quantitative"}, "y": {"datum": 50, "type": "quantitative"}}},
  {"data": {"name": "one"}, "mark": {"type": "text", "text": "5´", "align": "center", "baseline": "middle", "fontSize": 11, "fill": "#111111"}, "encoding": {"x": {"datum": 2, "type": "quantitative"}, "y": {"datum": -5.056, "type": "quantitative"}}},
  {"data": {"name": "one"}, "mark": {"type": "text", "text": "3´", "align": "center", "baseline": "middle", "fontSize": 11, "fill": "#111111"}, "encoding": {"x": {"datum": 225, "type": "quantitative"}, "y": {"datum": -5.056, "type": "quantitative"}}},
  {"data": {"name": "one"}, "mark": {"type": "text", "text": "Ptafr", "align": "center", "baseline": "middle", "fill": "#111111"}, "encoding": {"x": {"datum": 110, "type": "quantitative"}, "y": {"datum": -5.056, "type": "quantitative"}}},
  {"data": {"name": "dm_gene"}, "mark": {"type": "rule", "strokeCap": "butt"}, "encoding": {"x": {"field": "x", "type": "quantitative"}, "x2": {"field": "x2"}, "y": {"datum": -10.112, "type": "quantitative"}, "strokeWidth": {"condition": [{"test": "datum.part === 'exon'", "value": 5}, {"test": "datum.part === 'cds'", "value": 5.5}, {"test": "datum.part === 'utr'", "value": 3.5}, {"test": "datum.part === 'line'", "value": 2.5}], "value": 1}}},
  {"data": {"name": "dm_cov"}, "mark": {"type": "rule", "strokeWidth": 1.5}, "encoding": {"x": {"field": "x", "type": "quantitative"}, "y": {"field": "y", "type": "quantitative"}, "y2": {"datum": 0}}}
 ]}
]},
{"hconcat": [
 {"width": 260, "height": 135, "layer": [
  {"data": {"name": "one"}, "mark": {"type": "rule", "strokeWidth": 1.5}, "encoding": {"x": {"datum": 0, "type": "quantitative", "scale": {"domain": [-20, 240], "nice": false, "zero": false}, "axis": null}, "y": {"datum": 5000, "type": "quantitative", "scale": {"domain": [-1460.67, 6123.6], "nice": false, "zero": false}, "axis": null}, "y2": {"datum": 0}}},
  {"data": {"name": "one"}, "mark": {"type": "rule", "strokeWidth": 1, "color": "#eeeeee"}, "encoding": {"x": {"datum": 0, "type": "quantitative"}, "x2": {"datum": 228}, "y": {"datum": 5000, "type": "quantitative"}}},
  {"data": {"name": "one"}, "mark": {"type": "rule", "strokeWidth": 2}, "encoding": {"x": {"datum": 0, "type": "quantitative"}, "x2": {"datum": 6}, "y": {"datum": 5000, "type": "quantitative"}}},
  {"data": {"name": "one"}, "mark": {"type": "text", "text": "5000", "align": "left", "baseline": "middle", "fill": "#111111"}, "encoding": {"x": {"datum": 8.3, "type": "quantitative"}, "y": {"datum": 5000, "type": "quantitative"}}},
  {"data": {"name": "one"}, "mark": {"type": "text", "text": "5´", "align": "center", "baseline": "middle", "fontSize": 11, "fill": "#111111"}, "encoding": {"x": {"datum": 0, "type": "quantitative"}, "y": {"datum": -505.6, "type": "quantitative"}}},
  {"data": {"name": "one"}, "mark": {"type": "text", "text": "3´", "align": "center", "baseline": "middle", "fontSize": 11, "fill": "#111111"}, "encoding": {"x": {"datum": 233, "type": "quantitative"}, "y": {"datum": -505.6, "type": "quantitative"}}},
  {"data": {"name": "one"}, "mark": {"type": "text", "text": "F5", "align": "center", "baseline": "middle", "fill": "#111111"}, "encoding": {"x": {"datum": 115, "type": "quantitative"}, "y": {"datum": -505.6, "type": "quantitative"}}},
  {"data": {"name": "one"}, "mark": {"type": "text", "text": "E", "align": "center", "baseline": "middle", "fontSize": 15, "fontWeight": "bold", "fill": "#000000"}, "encoding": {"x": {"datum": -14.5, "type": "quantitative"}, "y": {"datum": 5000, "type": "quantitative"}}},
  {"data": {"name": "eh_gene"}, "mark": {"type": "rule", "strokeCap": "butt"}, "encoding": {"x": {"field": "x", "type": "quantitative"}, "x2": {"field": "x2"}, "y": {"datum": -1011.2, "type": "quantitative"}, "strokeWidth": {"condition": [{"test": "datum.part === 'exon'", "value": 6}, {"test": "datum.part === 'cds'", "value": 5.5}, {"test": "datum.part === 'utr'", "value": 3.5}, {"test": "datum.part === 'line'", "value": 2.5}], "value": 1}, "color": {"condition": {"test": "datum.part === 'exon'", "value": "#444444"}, "value": "#000000"}}}
 ]},
 {"width": 260, "height": 135, "layer": [
  {"data": {"name": "one"}, "mark": {"type": "rule", "strokeWidth": 1.5}, "encoding": {"x": {"datum": 0, "type": "quantitative", "scale": {"domain": [-27, 233], "nice": false, "zero": false}, "axis": null}, "y": {"datum": 5000, "type": "quantitative", "scale": {"domain": [-1460.67, 6123.6], "nice": false, "zero": false}, "axis": null}, "y2": {"datum": 0}}},
  {"data": {"name": "one"}, "mark": {"type": "rule", "strokeWidth": 1, "color": "#aaaaaa"}, "encoding": {"x": {"datum": 0, "type": "quantitative"}, "x2": {"datum": 232}, "y": {"datum": 0, "type": "quantitative"}}},
  {"data": {"name": "one"}, "mark": {"type": "rule", "strokeWidth": 2.5}, "encoding": {"x": {"datum": 0, "type": "quantitative"}, "x2": {"datum": 5}, "y": {"datum": 5000, "type": "quantitative"}}},
  {"data": {"name": "one"}, "mark": {"type": "text", "text": "5000", "align": "left", "baseline": "middle", "fill": "#111111"}, "encoding": {"x": {"datum": 5.3, "type": "quantitative"}, "y": {"datum": 5000, "type": "quantitative"}}},
  {"data": {"name": "one"}, "mark": {"type": "text", "text": "5´", "align": "center", "baseline": "middle", "fontSize": 11, "fill": "#111111"}, "encoding": {"x": {"datum": 2, "type": "quantitative"}, "y": {"datum": -505.6, "type": "quantitative"}}},
  {"data": {"name": "one"}, "mark": {"type": "text", "text": "3´", "align": "center", "baseline": "middle", "fontSize": 11, "fill": "#111111"}, "encoding": {"x": {"datum": 226, "type": "quantitative"}, "y": {"datum": -505.6, "type": "quantitative"}}},
  {"data": {"name": "one"}, "mark": {"type": "text", "text": "f5", "align": "center", "baseline": "middle", "fill": "#111111"}, "encoding": {"x": {"datum": 113, "type": "quantitative"}, "y": {"datum": -505.6, "type": "quantitative"}}},
  {"data": {"name": "em_gene"}, "mark": {"type": "rule", "strokeCap": "butt"}, "encoding": {"x": {"field": "x", "type": "quantitative"}, "x2": {"field": "x2"}, "y": {"datum": -1011.2, "type": "quantitative"}, "strokeWidth": {"condition": [{"test": "datum.part === 'exon'", "value": 6}, {"test": "datum.part === 'cds'", "value": 5.5}, {"test": "datum.part === 'utr'", "value": 3.5}, {"test": "datum.part === 'line'", "value": 2.5}], "value": 1}}},
  {"data": {"name": "em_cov"}, "mark": {"type": "rule", "strokeWidth": 1, "color": "#333333"}, "encoding": {"x": {"field": "x", "type": "quantitative"}, "y": {"field": "y", "type": "quantitative"}, "y2": {"datum": 0}}},
  {"data": {"name": "em_area"}, "mark": {"type": "area"}, "encoding": {"x": {"field": "x", "type": "quantitative"}, "y": {"field": "y", "type": "quantitative"}, "y2": {"datum": 0}}}
 ]}
]}
]
}
